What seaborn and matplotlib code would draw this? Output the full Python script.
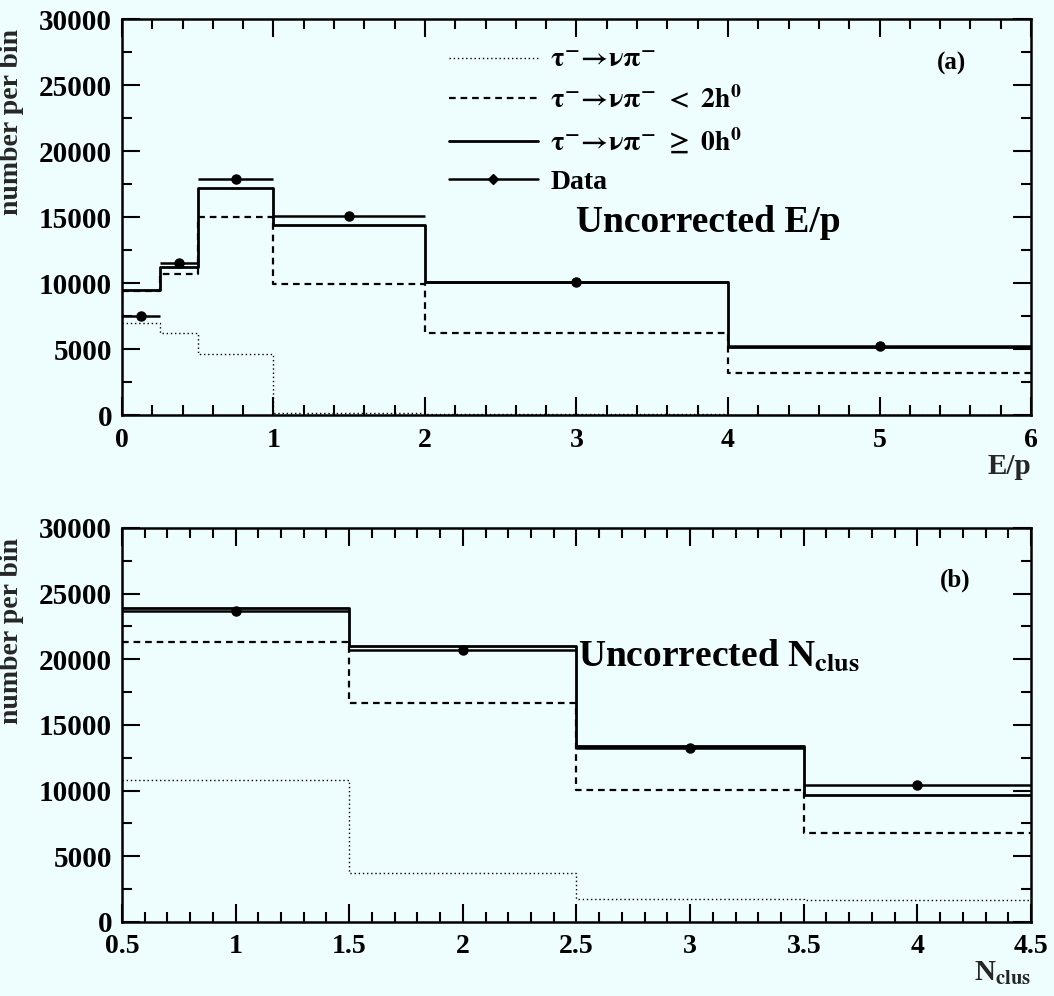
import numpy as np
import pandas as pd
import matplotlib
matplotlib.use("Agg")
import matplotlib.pyplot as plt
from matplotlib.lines import Line2D
from matplotlib.ticker import MultipleLocator
import seaborn as sns

# ---- E/p distribution (panel a) ----
ep_edges = [0, 0.25, 0.5, 1, 2, 4, 6]
ep_pi = [7000, 6200, 4600, 150, 60, 30]          # tau -> nu pi
ep_lt2 = [9400, 10700, 15000, 9900, 6200, 3150]  # tau -> nu pi < 2h0
ep_ge0 = [9500, 11200, 17200, 14400, 10100, 5150]  # tau -> nu pi >= 0h0
ep_data = [7500, 11500, 17900, 15100, 10100, 5200]
ep_ticks = [0, 1, 2, 3, 4, 5, 6]

# ---- N_clus distribution (panel b) ----
nc_edges = [0.5, 1.5, 2.5, 3.5, 4.5]
nc_pi = [10800, 3750, 1780, 1680]
nc_lt2 = [21300, 16650, 10050, 6750]
nc_ge0 = [23900, 21000, 13400, 9700]
nc_data = [23700, 20700, 13250, 10400]
nc_ticks = [0.5, 1, 1.5, 2, 2.5, 3, 3.5, 4, 4.5]

y_ticks = [0, 5000, 10000, 15000, 20000, 25000, 30000]

sns.set_style("ticks")
BG = "#eefefe"
plt.rcParams.update({
    "font.family": ["Liberation Serif", "DejaVu Serif"],
    "font.weight": "bold",
    "mathtext.fontset": "stix",
    "figure.facecolor": BG,
    "axes.facecolor": BG,
    "savefig.facecolor": BG,
    "axes.edgecolor": "black",
    "axes.linewidth": 1.6,
    "text.color": "black",
})

fig = plt.figure(figsize=(10.54, 9.96), dpi=100)
ax_a = fig.add_axes([0.1157, 0.5833, 0.8625, 0.3976])
ax_b = fig.add_axes([0.1157, 0.0743, 0.8625, 0.3956])

DOT = (0, (1.0, 2.0))
DASH = (0, (3.0, 2.2))


def draw_panel(ax, edges, pi, lt2, ge0, data):
    e = np.asarray(edges, dtype=float)
    centers = 0.5 * (e[:-1] + e[1:])
    half = 0.5 * (e[1:] - e[:-1])
    df = pd.DataFrame({"x": centers, "pi": pi, "lt2": lt2, "ge0": ge0})
    for col, lw, ls in (("pi", 1.0, DOT), ("lt2", 1.6, DASH), ("ge0", 2.0, "-")):
        sns.histplot(data=df, x="x", weights=col, bins=list(edges),
                     element="step", fill=False, color="black",
                     linewidth=lw, linestyle=ls, ax=ax)
    ax.errorbar(centers, data, xerr=half, fmt="o", color="black",
                markersize=6.5, elinewidth=1.8, capsize=0)


def style_axes(ax, edges, xticks, xminor):
    ax.set_xlim(edges[0], edges[-1])
    ax.set_ylim(0, 30000)
    ax.set_xticks(xticks)
    ax.set_xticklabels([f"{t:g}" for t in xticks])
    ax.set_yticks(y_ticks)
    ax.set_yticklabels([str(t) for t in y_ticks])
    ax.xaxis.set_minor_locator(MultipleLocator(xminor))
    ax.yaxis.set_minor_locator(MultipleLocator(2500))
    ax.tick_params(which="both", direction="in", top=True, right=True,
                   width=1.5, colors="black")
    ax.tick_params(which="major", length=13)
    ax.tick_params(axis="y", which="major", labelsize=21, pad=7)
    ax.tick_params(axis="x", which="major", labelsize=20, pad=9)
    ax.tick_params(which="minor", length=7)
    for lab in ax.get_xticklabels() + ax.get_yticklabels():
        lab.set_fontweight("bold")
    for s in ax.spines.values():
        s.set_visible(True)
        s.set_linewidth(1.8)
    ax.set_ylabel("number per bin", fontsize=20, fontweight="bold",
                  loc="top")
    ax.yaxis.set_label_coords(-0.108, 0.975)


draw_panel(ax_a, ep_edges, ep_pi, ep_lt2, ep_ge0, ep_data)
style_axes(ax_a, ep_edges, ep_ticks, 0.2)
ax_a.set_xlabel("E/p", fontsize=21, fontweight="bold", loc="right", labelpad=0)

draw_panel(ax_b, nc_edges, nc_pi, nc_lt2, nc_ge0, nc_data)
style_axes(ax_b, nc_edges, nc_ticks, 0.1)
ax_b.set_xlabel(r"N$_{\mathbf{clus}}$", fontsize=21, fontweight="bold",
                loc="right", labelpad=0)

# legend for panel (a)
handles = [
    Line2D([], [], color="black", linewidth=1.0, linestyle=DOT),
    Line2D([], [], color="black", linewidth=1.6, linestyle=DASH),
    Line2D([], [], color="black", linewidth=2.0, linestyle="-"),
    Line2D([], [], color="black", linewidth=1.8, marker="D", markersize=5),
]
decay = r"\mathrm{\tau}^{-}\!\rightarrow\!\mathrm{\nu\pi}^{-}"
labels = [
    rf"${decay}$",
    rf"${decay}\ <\ \mathbf{{2h^{{0}}}}$",
    rf"${decay}\ \geq\ \mathbf{{0h^{{0}}}}$",
    "Data",
]
leg = ax_a.legend(handles, labels, loc="upper left",
                  bbox_to_anchor=(0.332, 0.99), frameon=False,
                  prop={"family": "Liberation Serif", "weight": "bold", "size": 20},
                  handlelength=3.2, handletextpad=0.45, labelspacing=0.45)

ax_a.text(0.912, 0.889, "(a)", transform=ax_a.transAxes, fontsize=18,
          fontweight="bold", ha="center", va="center")
ax_a.text(0.645, 0.487, "Uncorrected E/p", transform=ax_a.transAxes,
          fontsize=27, fontweight="bold", ha="center", va="center")

ax_b.text(0.917, 0.868, "(b)", transform=ax_b.transAxes, fontsize=18,
          fontweight="bold", ha="center", va="center")
ax_b.text(0.502, 0.675, r"Uncorrected N$_{\mathbf{clus}}$", transform=ax_b.transAxes,
          fontsize=27, fontweight="bold", ha="left", va="center")

fig.savefig("out.png", dpi=100)
